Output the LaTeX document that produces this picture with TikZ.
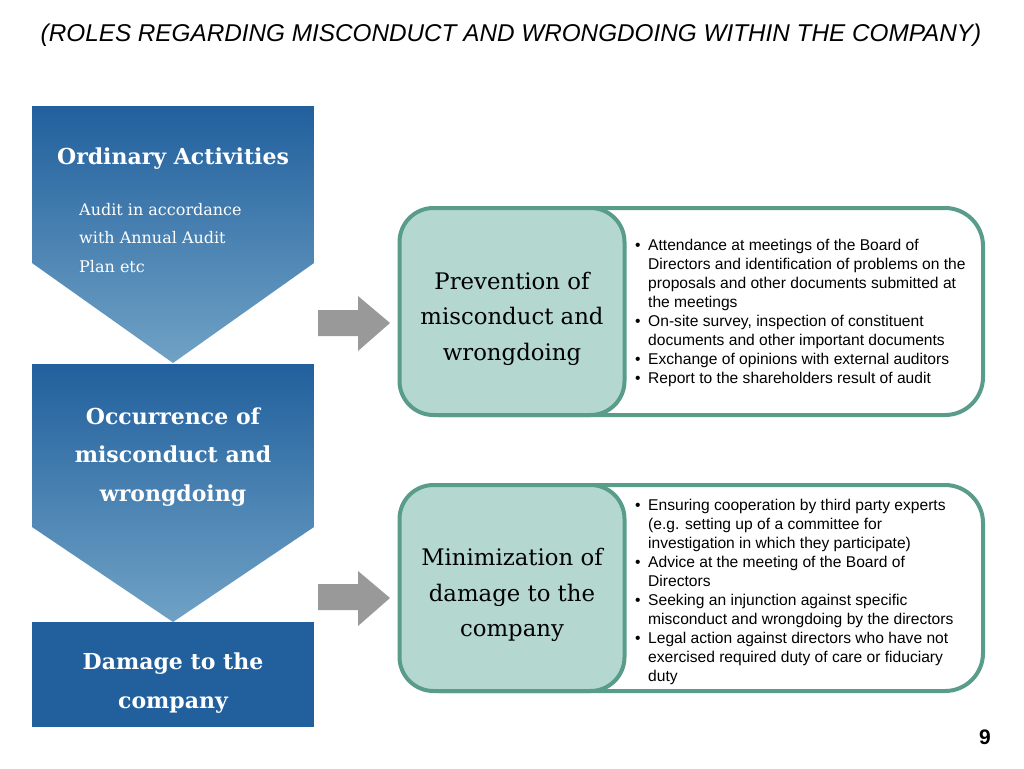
\documentclass[tikz,border=0pt]{standalone}
\usepackage{fontspec}
\setmainfont{DejaVu Serif}
\newfontfamily\sansf{Liberation Sans}
\definecolor{blueA}{HTML}{21609D}
\definecolor{blueB}{HTML}{70A2C5}
\definecolor{tealline}{HTML}{5A9C8A}
\definecolor{tealfill}{HTML}{B4D8CF}
\definecolor{arrowgray}{HTML}{999999}
\newcommand\bul{\makebox[13pt][l]{\textbullet}}
\newcommand\ind{\hspace*{13pt}}
\begin{document}
\begin{tikzpicture}[x=1pt,y=-1pt,
  chevtitle/.style={text=white, font=\bfseries\fontsize{22}{38.5}\selectfont, align=center, inner sep=0pt},
  chevsub/.style={text=white, font=\fontsize{16}{28.5}\selectfont, align=left, inner sep=0pt},
  outerbox/.style={draw=tealline, line width=4pt, rounded corners=38pt, fill=white, inner sep=0pt},
  innerbox/.style={draw=tealline, line width=4pt, rounded corners=34pt, fill=tealfill, inner sep=0pt},
  innertext/.style={align=center, font=\fontsize{22.8}{35.5}\selectfont, inner sep=0pt},
  bullets/.style={font=\sansf\fontsize{15.6}{18.9}\selectfont, align=left, inner sep=0pt, anchor=west},
  blockarrow/.style={fill=arrowgray}
]
\useasboundingbox (0,0) rectangle (1024,768);
\fill[white] (0,0) rectangle (1024,768);

% title
\node[font=\sansf\itshape\fontsize{24.3}{28}\selectfont] (title) at (511,35) {(ROLES REGARDING MISCONDUCT AND WRONGDOING WITHIN THE COMPANY)};

% left column
\shade[top color=blueA, bottom color=blueB] (32,106) -- (314,106) -- (314,263) -- (173,363) -- (32,263) -- cycle;
\shade[top color=blueA, bottom color=blueB] (32,364) -- (314,364) -- (314,527) -- (173,622) -- (32,527) -- cycle;
\fill[blueA] (32,622) rectangle (314,727);

\node[chevtitle] (t1) at (173,159) {Ordinary Activities};
\node[chevsub, anchor=west] (t1b) at (79,238) {Audit in accordance\\with Annual Audit\\Plan etc};
\node[chevtitle] (t2) at (173,457) {Occurrence of\\misconduct and\\wrongdoing};
\node[chevtitle] (t3) at (173,683) {Damage to the\\company};

% arrows
\fill[blockarrow] (318,310) -- (358,310) -- (358,296) -- (390,323) -- (358,351) -- (358,336) -- (318,336) -- cycle;
\fill[blockarrow] (318,584) -- (358,584) -- (358,571) -- (390,598) -- (358,626) -- (358,610) -- (318,610) -- cycle;

% box 1
\node[outerbox, minimum width=583pt, minimum height=207pt] (b1) at (691.5,311.5) {};
\node[innerbox, minimum width=225pt, minimum height=207pt] (l1) at (512,311.5) {};
\node[innertext] (l1t) at ([yshift=-7pt]l1.center) {Prevention of\\misconduct and\\wrongdoing};
\node[bullets] (r1) at (635,313) {%
\bul Attendance at meetings of the Board of\\
\ind Directors and identification of problems on the\\
\ind proposals and other documents submitted at\\
\ind the meetings\\
\bul On-site survey, inspection of constituent\\
\ind documents and other important documents\\
\bul Exchange of opinions with external auditors\\
\bul Report to the shareholders result of audit};

% box 2
\node[outerbox, minimum width=583pt, minimum height=206pt] (b2) at (691.5,588) {};
\node[innerbox, minimum width=225pt, minimum height=206pt] (l2) at (512,588) {};
\node[innertext] (l2t) at ([yshift=-7pt]l2.center) {Minimization of\\damage to the\\company};
\node[bullets] (r2) at (635,592) {%
\bul Ensuring cooperation by third party experts\\
\ind (e.g. setting up of a committee for\\
\ind investigation in which they participate)\\
\bul Advice at the meeting of the Board of\\
\ind Directors\\
\bul Seeking an injunction against specific\\
\ind misconduct and wrongdoing by the directors\\
\bul Legal action against directors who have not\\
\ind exercised required duty of care or fiduciary\\
\ind duty};

% page number
\node[font=\sansf\bfseries\fontsize{21}{24}\selectfont] (pg) at (985,737) {9};
\end{tikzpicture}
\end{document}
